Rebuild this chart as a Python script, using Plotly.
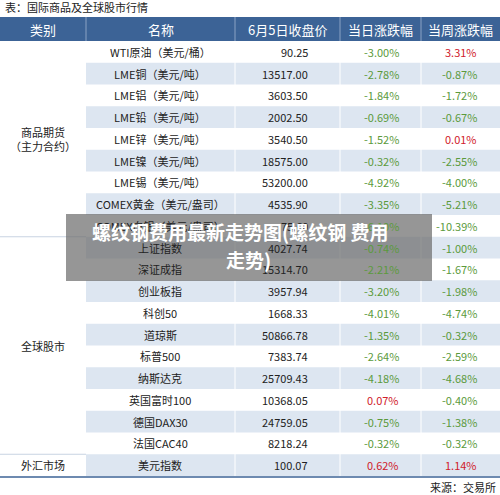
import plotly.graph_objects as go

# data
names = ["WTI原油（美元/桶）", "LME铜（美元/吨）", "LME铝（美元/吨）", "LME铅（美元/吨）",
         "LME锌（美元/吨）", "LME镍（美元/吨）", "LME锡（美元/吨）", "COMEX黄金（美元/盎司）",
         "COMEX白银（美元/盎司）", "上证指数", "深证成指", "创业板指", "科创50", "道琼斯",
         "标普500", "纳斯达克", "英国富时100", "德国DAX30", "法国CAC40", "美元指数"]
prices = ["90.25", "13517.00", "3603.50", "2002.50", "3540.50", "18575.00", "53200.00",
          "4535.90", "75.60", "4027.74", "15314.70", "3957.94", "1668.33", "50866.78",
          "7383.74", "25709.43", "10368.05", "24759.05", "8218.24", "100.07"]
daily = [-3.00, -2.78, -1.84, -0.69, -1.52, -0.32, -4.92, -3.35, -6.10, -0.74, -2.21,
         -3.20, -4.01, -1.35, -2.64, -4.18, 0.07, -0.75, -0.32, 0.62]
weekly = [3.31, -0.87, -1.72, -0.67, 0.01, -2.55, -4.00, -5.21, -10.39, -1.00, -1.67,
          -1.98, -4.74, -0.32, -2.59, -4.68, -0.40, -1.38, -0.32, 1.14]
groups = [("商品期货<br>（主力合约）", 0, 9), ("全球股市", 9, 19), ("外汇市场", 19, 20)]
headers = ["类别", "名称", "6月5日收盘价", "当日涨跌幅", "当周涨跌幅"]

FONT = "Noto Sans CJK SC"
col_x = [0, 86, 235, 340, 421, 500]
top, hh, rh = 17, 24, 21.75
GREEN, RED = "#5b9a3c", "#d0202a"

fig = go.Figure()
shapes, ann = [], []

# header
shapes.append(dict(type="rect", x0=0, x1=500, y0=top, y1=top + hh, fillcolor="#3c6396", line_width=0, layer="below"))
for i, h in enumerate(headers):
    ann.append(dict(x=(col_x[i] + col_x[i + 1]) / 2, y=top + hh / 2, text=h, showarrow=False,
                    font=dict(color="white", size=13, family=FONT)))
    if i > 0:
        shapes.append(dict(type="line", x0=col_x[i], x1=col_x[i], y0=top, y1=top + hh, line=dict(color="#8aa3c4", width=1)))

y0 = top + hh
for r in range(len(names)):
    ya, yb = y0 + r * rh, y0 + (r + 1) * rh
    yc = (ya + yb) / 2
    if r % 2 == 1:
        shapes.append(dict(type="rect", x0=86, x1=500, y0=ya, y1=yb, fillcolor="#dde6f1", line_width=0, layer="below"))
    ann.append(dict(x=160, y=yc, text=names[r], showarrow=False, font=dict(size=11, color="#222", family=FONT)))
    ann.append(dict(x=310, y=yc, text=prices[r], xanchor="right", showarrow=False, font=dict(size=11, color="#222", family=FONT)))
    ann.append(dict(x=401, y=yc, text=f"{daily[r]:.2f}%", xanchor="right", showarrow=False,
                    font=dict(size=11, color=RED if daily[r] > 0 else GREEN, family=FONT)))
    ann.append(dict(x=479, y=yc, text=f"{weekly[r]:.2f}%", xanchor="right", showarrow=False,
                    font=dict(size=11, color=RED if weekly[r] > 0 else GREEN, family=FONT)))

for c in col_x[2:5]:
    shapes.append(dict(type="line", x0=c, x1=c, y0=y0, y1=y0 + 20 * rh, line=dict(color="white", width=1)))

for label, a, b in groups:
    ann.append(dict(x=43, y=y0 + (a + b) / 2 * rh, text=label, showarrow=False,
                    font=dict(size=11, color="#222", family=FONT)))
    if b < 20:
        shapes.append(dict(type="line", x0=0, x1=86, y0=y0 + b * rh, y1=y0 + b * rh, line=dict(color="#c8d3e2", width=1)))

bottom = y0 + 20 * rh
shapes.append(dict(type="line", x0=0, x1=500, y0=bottom + 1, y1=bottom + 1, line=dict(color="#3c6396", width=1.5)))

ann.append(dict(x=3, y=7, text="表：国际商品及全球股市行情", xanchor="left", showarrow=False,
                font=dict(size=11, color="#222", family=FONT)))
ann.append(dict(x=498, y=487, text="来源：交易所", xanchor="right", showarrow=False,
                font=dict(size=11, color="#222", family=FONT)))

# watermark overlay
shapes.append(dict(type="rect", x0=66, x1=432, y0=214, y1=281, fillcolor="rgba(110,110,110,0.72)", line_width=0))
ann.append(dict(x=240, y=231, text="<b>螺纹钢费用最新走势图(螺纹钢 费用</b>", showarrow=False,
                font=dict(size=19, color="white", family=FONT)))
ann.append(dict(x=248, y=259, text="<b>走势)</b>", showarrow=False,
                font=dict(size=19, color="white", family=FONT)))

fig.update_layout(
    width=500, height=495, margin=dict(l=0, r=0, t=0, b=0),
    plot_bgcolor="white", paper_bgcolor="white",
    xaxis=dict(range=[0, 500], visible=False, fixedrange=True),
    yaxis=dict(range=[495, 0], visible=False, fixedrange=True),
    shapes=shapes, annotations=ann, showlegend=False,
)
fig.write_html("out.html", config={"displayModeBar": False})

# drop the default page margin so the figure sits at the window corner
with open("out.html", encoding="utf-8") as f:
    html = f.read()
html = html.replace("<body>", '<body style="margin:0">', 1)
with open("out.html", "w", encoding="utf-8") as f:
    f.write(html)
